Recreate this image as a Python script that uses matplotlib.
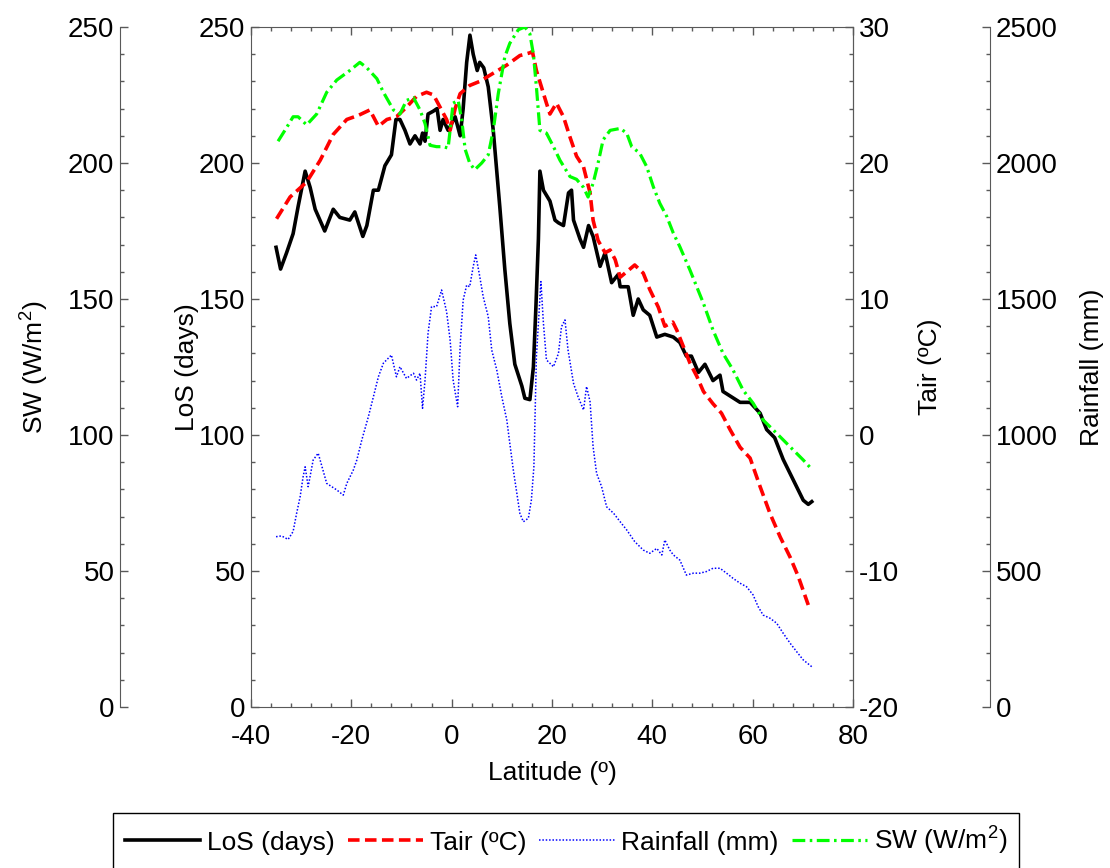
import numpy as np
import matplotlib.pyplot as plt
from matplotlib.ticker import MultipleLocator

plt.rcParams['font.family'] = ['Liberation Sans', 'DejaVu Sans']
plt.rcParams['mathtext.default'] = 'regular'
plt.rcParams['axes.unicode_minus'] = False

# LoS (days) vs latitude
los_lat = [-35.0, -34.1, -32.9, -31.6, -30.6, -29.2, -28.2, -27.2, -25.3, -23.6,
           -22.3, -20.3, -19.3, -17.7, -16.9, -15.6, -14.6, -13.3, -12.0, -11.1,
           -10.3, -9.3, -8.3, -7.3, -6.3, -5.8, -5.3, -4.7, -3.7, -2.9,
           -2.3, -1.7, -0.7, 0.7, 1.7, 2.3, 3.0, 3.65, 4.3, 5.1,
           5.6, 6.4, 7.3, 8.3, 9.6, 10.6, 11.6, 12.6, 14.0, 14.6,
           15.6, 16.3, 16.8, 17.3, 17.6, 18.3, 19.6, 20.6, 21.3, 22.3,
           23.3, 23.9, 24.3, 25.6, 26.3, 27.3, 28.2, 29.6, 30.6, 31.9,
           33.2, 33.6, 35.2, 36.2, 37.2, 38.2, 39.5, 40.9, 42.5, 44.2,
           45.5, 46.8, 47.8, 49.2, 50.5, 52.1, 53.5, 54.1, 55.8, 57.5,
           59.5, 61.5, 62.8, 64.4, 66.1, 68.1, 70.1, 71.1, 71.8]
los = [169, 161, 167, 174, 184, 197, 191, 183, 175, 183,
       180, 179, 182, 173, 177, 190, 190, 199, 203, 216,
       216, 212, 207, 210, 207, 211, 208, 218, 219, 220,
       212, 216, 212, 217, 210, 220, 237, 247, 240, 234,
       237, 235, 228, 212, 184, 161, 141, 126, 118, 113.5,
       113, 125, 147, 172, 197, 190, 186, 179, 178, 177,
       189, 190, 179, 172, 169, 177, 173, 162, 167, 156,
       159, 154.5, 154.5, 144, 150, 146, 144, 136, 137, 136,
       134, 129, 129, 123, 126, 120, 122, 116, 114, 112,
       112, 108, 102, 99, 91, 83.5, 76, 74.5, 75.5]

# Tair (ºC)
tair_lat = [-34.9, -32.2, -28.9, -26.2, -23.6, -20.9, -18.6, -16.3, -14.6, -12.9,
            -11.0, -9.0, -7.0, -5.0, -3.6, -2.3, -1.0, -0.3, 0.7, 1.7,
            3.6, 5.6, 8.3, 11.0, 13.6, 15.6, 16.1, 16.9, 17.9, 18.9,
            19.6, 20.9, 22.3, 23.6, 24.9, 26.3, 27.6, 28.2, 29.2, 30.6,
            31.6, 32.6, 33.6, 34.9, 36.5, 38.2, 39.5, 41.2, 42.5, 44.1,
            44.9, 46.2, 47.5, 48.9, 50.2, 52.1, 53.8, 55.5, 57.5, 59.5,
            61.5, 63.5, 65.5, 67.5, 69.1, 71.1]
tair = [15.9, 17.5, 18.6, 20.2, 22.1, 23.2, 23.5, 23.9, 22.7, 23.2,
        23.4, 24.1, 24.9, 25.2, 25.0, 24.1, 23.2, 22.4, 24.0, 25.1,
        25.7, 26.0, 26.6, 27.2, 27.9, 28.1, 28.2, 26.8, 25.6, 24.4,
        23.6, 24.4, 23.4, 21.9, 20.5, 19.7, 17.8, 15.8, 14.3, 13.4,
        13.6, 12.9, 11.6, 12.0, 12.5, 11.9, 10.7, 9.4, 8.0, 8.3,
        7.7, 6.5, 5.3, 4.3, 3.2, 2.3, 1.6, 0.4, -0.9, -1.7,
        -3.8, -5.8, -7.5, -9.0, -10.4, -12.5]

# Rainfall (mm)
rain_lat = [-35.0, -33.9, -32.6, -31.6, -30.9, -30.2, -29.6, -29.2, -28.6, -27.6,
            -26.6, -24.9, -22.9, -21.6, -20.9, -19.6, -18.9, -17.9, -16.6, -15.6,
            -14.6, -13.6, -12.0, -11.0, -10.3, -9.0, -7.6, -7.0, -6.3, -5.8,
            -5.3, -4.7, -4.0, -3.0, -2.0, -1.0, -0.3, 0.3, 1.2, 1.7,
            2.3, 3.0, 3.6, 4.3, 4.8, 5.5, 6.3, 7.3, 8.0, 9.0,
            10.0, 11.0, 11.6, 12.3, 13.0, 13.6, 14.3, 15.3, 15.9, 16.4,
            16.9, 17.5, 17.8, 18.3, 18.9, 20.3, 21.3, 21.9, 22.6, 23.2,
            24.3, 25.2, 26.3, 26.9, 27.6, 28.2, 28.9, 29.9, 30.9, 32.3,
            33.6, 34.9, 36.5, 38.2, 39.5, 40.9, 41.9, 42.5, 43.5, 44.2,
            45.5, 46.8, 48.2, 49.5, 50.8, 52.1, 53.5, 54.8, 56.1, 57.5,
            58.8, 60.1, 61.1, 62.1, 63.5, 64.8, 66.1, 67.5, 68.8, 70.1,
            71.8]
rain = [626, 629, 616, 645, 712, 773, 847, 883, 810, 908,
        933, 822, 798, 779, 822, 871, 908, 982, 1067, 1140,
        1214, 1264, 1294, 1214, 1251, 1208, 1227, 1202, 1227, 1098,
        1202, 1374, 1472, 1472, 1533, 1453, 1349, 1202, 1104, 1325,
        1496, 1551, 1545, 1619, 1662, 1594, 1508, 1435, 1312, 1239,
        1141, 1055, 969, 871, 786, 712, 681, 694, 761, 883,
        1288, 1472, 1564, 1411, 1276, 1251, 1300, 1398, 1423, 1313,
        1190, 1141, 1092, 1178, 1122, 957, 859, 810, 736, 712,
        681, 651, 608, 577, 565, 583, 559, 614, 577, 559,
        540, 485, 492, 492, 498, 510, 510, 492, 473, 455,
        442, 412, 369, 338, 326, 308, 271, 234, 203, 173,
        148]

# SW (W/m2)
sw_lat = [-34.6, -32.9, -31.6, -30.6, -28.9, -26.9, -24.9, -22.9, -20.3, -18.3,
          -16.9, -14.9, -13.6, -11.6, -10.3, -9.0, -7.6, -6.3, -5.3, -4.3,
          -3.0, -1.7, -0.7, 0.3, 1.3, 2.0, 2.7, 3.6, 4.6, 6.0,
          7.3, 8.3, 9.3, 10.6, 11.6, 13.3, 14.6, 15.6, 16.3, 16.9,
          17.6, 18.9, 20.3, 21.6, 23.6, 24.9, 26.3, 27.2, 28.2, 29.2,
          30.2, 31.6, 33.6, 34.9, 35.9, 37.5, 38.9, 40.2, 41.5, 42.9,
          44.2, 45.5, 47.5, 50.2, 52.1, 54.1, 56.1, 58.1, 60.1, 62.1,
          64.8, 68.1, 70.1, 71.8]
sw = [208, 213, 217, 217, 214, 218, 226, 230.5, 234, 237,
      235, 231, 226, 219.5, 218, 223, 224, 219.5, 214.5, 206.5,
      206, 206, 205.5, 222, 223, 216, 205, 200, 197.5, 200,
      203, 212, 225.5, 239, 244, 249, 250, 247.5, 240, 228,
      212, 211, 206, 201, 195, 194, 191, 187.5, 192.5, 200,
      208.5, 212, 212.7, 211, 206, 203.6, 198.6, 191.3, 185.2, 180.3,
      174.2, 169.2, 160.7, 148.4, 138.6, 130, 123.9, 116.5, 111.7, 105.5,
      100.6, 94.5, 90.8, 87.4]

FS_TICK = 20
FS_LAB = 19
SPINE = '0.35'

fig = plt.figure(figsize=(11.1, 8.68), dpi=100)
ax = fig.add_axes([0.2261, 0.1855, 0.5423, 0.7834])
ax_t = ax.twinx()
ax_r = ax.twinx()
ax_sw = ax.twinx()


def style_y(a, major, minor):
    a.yaxis.set_major_locator(MultipleLocator(major))
    a.yaxis.set_minor_locator(MultipleLocator(minor))
    a.tick_params(axis='y', which='both', direction='in', colors='black',
                  labelsize=FS_TICK, pad=4)
    a.tick_params(axis='y', which='major', length=6, width=1, color=SPINE)
    a.tick_params(axis='y', which='minor', length=3, width=1, color=SPINE)


# main axis: LoS
l1, = ax.plot(los_lat, los, color='black', lw=2.6, label='LoS (days)')
ax.set_xlim(-40, 80)
ax.set_ylim(0, 250)
ax.xaxis.set_major_locator(MultipleLocator(20))
ax.xaxis.set_minor_locator(MultipleLocator(4))
ax.tick_params(axis='x', which='both', direction='in', top=True,
               labelsize=FS_TICK, pad=12)
ax.tick_params(axis='x', which='major', length=6, width=1, color=SPINE)
ax.tick_params(axis='x', which='minor', length=3, width=1, color=SPINE)
style_y(ax, 50, 10)
ax.set_xlabel('Latitude (º)', fontsize=FS_LAB, labelpad=8)
ax.set_ylabel('LoS (days)', fontsize=FS_LAB, labelpad=0)
for s in ax.spines.values():
    s.set_color(SPINE)

# Tair on right spine
l2, = ax_t.plot(tair_lat, tair, color='#ff0000', lw=2.6,
                linestyle=(0, (3.2, 1.5)), label='Tair (ºC)')
ax_t.set_ylim(-20, 30)
style_y(ax_t, 10, 2)
ax_t.set_ylabel('Tair (ºC)', fontsize=FS_LAB, labelpad=14)
for k in ['left', 'top', 'bottom']:
    ax_t.spines[k].set_visible(False)
ax_t.spines['right'].set_color(SPINE)

# Rainfall on offset right spine
l3, = ax_r.plot(rain_lat, rain, color='#0000ff', lw=1.1,
                linestyle=(0, (1, 1.2)), label='Rainfall (mm)')
ax_r.set_ylim(0, 2500)
style_y(ax_r, 500, 100)
ax_r.spines['right'].set_position(('axes', 1.2276))
ax_r.set_ylabel('Rainfall (mm)', fontsize=FS_LAB, labelpad=16)
for k in ['left', 'top', 'bottom']:
    ax_r.spines[k].set_visible(False)
ax_r.spines['right'].set_color(SPINE)

# SW on offset left spine
l4, = ax_sw.plot(sw_lat, sw, color='#00ff00', lw=2.3,
                 linestyle=(0, (4, 1.4, 0.8, 1.4)), label='SW (W/m$^2$)')
ax_sw.set_ylim(0, 250)
ax_sw.yaxis.set_ticks_position('left')
ax_sw.yaxis.set_label_position('left')
style_y(ax_sw, 50, 10)
ax_sw.spines['left'].set_visible(True)
ax_sw.spines['left'].set_position(('axes', -0.2176))
ax_sw.spines['left'].set_color(SPINE)
for k in ['right', 'top', 'bottom']:
    ax_sw.spines[k].set_visible(False)
ax_sw.set_ylabel('SW (W/m$^2$)', fontsize=FS_LAB, labelpad=12)

leg = fig.legend(handles=[l1, l2, l3, l4], loc='center', ncol=4,
                 bbox_to_anchor=(566 / 1110, 1 - 841 / 868),
                 fontsize=FS_LAB, frameon=True, fancybox=False,
                 edgecolor='black', framealpha=1, handlelength=2.85,
                 handletextpad=0.25, columnspacing=0.5, borderpad=0.45)
leg.get_frame().set_linewidth(1.0)

fig.savefig('out.png', dpi=100)
